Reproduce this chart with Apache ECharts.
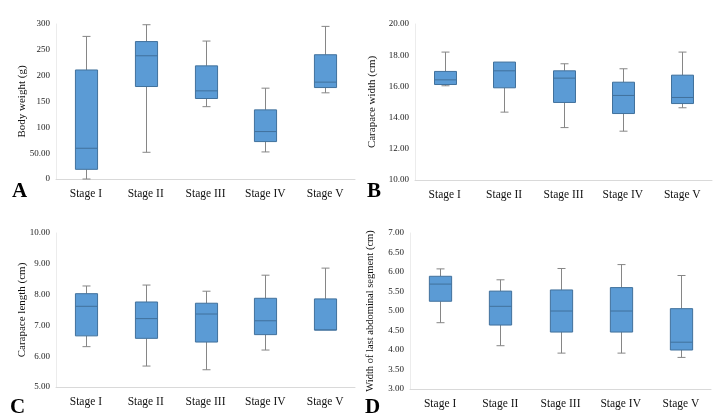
<!DOCTYPE html>
<html>
<head>
<meta charset="utf-8">
<script src="https://cdn.jsdelivr.net/npm/echarts@6/dist/echarts.min.js"></script>
<style>html,body{margin:0;padding:0;background:#fff}#c{width:720px;height:418px}</style>
</head>
<body>
<div id="c"></div>
<script>
// Categories
const stages = ['Stage I', 'Stage II', 'Stage III', 'Stage IV', 'Stage V'];

// Each entry: [min, Q1, median, Q3, max] per stage
const bodyWeight = [
  [0, 18.7, 59.5, 211, 276],
  [51.7, 179, 238.5, 266, 298.6],
  [140, 155.8, 170.6, 219, 267],
  [52.4, 72.4, 91.8, 133.8, 175.8],
  [166.8, 177, 187.5, 240.5, 295.4]
];
const carapaceWidth = [
  [16.04, 16.12, 16.42, 16.96, 18.20],
  [14.35, 15.91, 17.00, 17.56, 17.56],
  [13.36, 14.97, 16.53, 17.00, 17.45],
  [13.13, 14.26, 15.42, 16.27, 17.13],
  [14.63, 14.90, 15.29, 16.72, 18.20]
];
const carapaceLength = [
  [6.31, 6.66, 7.62, 8.03, 8.28],
  [5.68, 6.58, 7.22, 7.76, 8.31],
  [5.56, 6.46, 7.37, 7.72, 8.11],
  [6.20, 6.70, 7.15, 7.88, 8.63],
  [6.85, 6.85, 6.85, 7.86, 8.86]
];
const lastSegmentWidth = [
  [4.70, 5.25, 5.69, 5.89, 6.08],
  [4.11, 4.64, 5.12, 5.51, 5.80],
  [3.92, 4.46, 5.00, 5.54, 6.09],
  [3.92, 4.46, 5.00, 5.60, 6.19],
  [3.81, 4.00, 4.20, 5.06, 5.91]
];

// Tick labels
const ticksA = ['0', '50.00', '100', '150', '200', '250', '300'];
const ticksB = ['10.00', '12.00', '14.00', '16.00', '18.00', '20.00'];
const ticksC = ['5.00', '6.00', '7.00', '8.00', '9.00', '10.00'];
const ticksD = ['3.00', '3.50', '4.00', '4.50', '5.00', '5.50', '6.00', '6.50', '7.00'];

const panels = [
  {data: bodyWeight, name: 'Body weight (g)', min: 0, max: 300, interval: 50, ticks: ticksA,
   grid: {left: 56, top: 24, width: 299, height: 155}, nameGap: 28, nameSize: 11, letter: 'A', lx: 12, ly: 181},
  {data: carapaceWidth, name: 'Carapace width (cm)', min: 10, max: 20, interval: 2, ticks: ticksB,
   grid: {left: 415, top: 24, width: 297, height: 156}, nameGap: 37, nameSize: 11, letter: 'B', lx: 367, ly: 181},
  {data: carapaceLength, name: 'Carapace length (cm)', min: 5, max: 10, interval: 1, ticks: ticksC,
   grid: {left: 56, top: 233, width: 299, height: 154}, nameGap: 28, nameSize: 11, letter: 'C', lx: 10, ly: 397},
  {data: lastSegmentWidth, name: 'Width of last abdominal segment (cm)', min: 3, max: 7, interval: 0.5, ticks: ticksD,
   grid: {left: 410, top: 233, width: 301, height: 156}, nameGap: 34, nameSize: 10.5, letter: 'D', lx: 365, ly: 397}
];

const FONT = 'Liberation Serif';
const BOX_FILL = '#5b9bd5';
const BOX_BORDER = '#41719c';
const WHISKER = '#868686';

function renderBox(params, api) {
  const idx = api.value(0);
  const pMin = api.coord([idx, api.value(1)]);
  const pQ1 = api.coord([idx, api.value(2)]);
  const pMed = api.coord([idx, api.value(3)]);
  const pQ3 = api.coord([idx, api.value(4)]);
  const pMax = api.coord([idx, api.value(5)]);
  const band = api.size([1, 0])[0];
  const bw = band * 0.37;
  const cw = 8;
  const cx = Math.round(pMed[0]) + 0.5;
  const children = [];
  const line = (x1, y1, x2, y2, c) => ({type: 'line', shape: {x1, y1, x2, y2}, style: {stroke: c, lineWidth: 1}});
  if (pMax[1] < pQ3[1] - 0.5) {
    children.push(line(cx, pMax[1], cx, pQ3[1], WHISKER));
    children.push(line(cx - cw / 2, pMax[1], cx + cw / 2, pMax[1], WHISKER));
  }
  if (pMin[1] > pQ1[1] + 0.5) {
    children.push(line(cx, pQ1[1], cx, pMin[1], WHISKER));
    children.push(line(cx - cw / 2, pMin[1], cx + cw / 2, pMin[1], WHISKER));
  }
  children.push({type: 'rect', shape: {x: cx - bw / 2, y: pQ3[1], width: bw, height: pQ1[1] - pQ3[1]},
    style: {fill: BOX_FILL, stroke: BOX_BORDER, lineWidth: 1}});
  children.push(line(cx - bw / 2, pMed[1], cx + bw / 2, pMed[1], BOX_BORDER));
  return {type: 'group', children};
}

const option = {
  backgroundColor: '#fff',
  animation: false,
  grid: panels.map(p => Object.assign({containLabel: false}, p.grid)),
  xAxis: panels.map((p, i) => ({
    type: 'category', gridIndex: i, data: stages,
    axisLine: {lineStyle: {color: '#d9d9d9'}},
    axisTick: {show: false},
    axisLabel: {fontFamily: FONT, fontSize: 11.5, color: '#111', margin: 9, interval: 0}
  })),
  yAxis: panels.map((p, i) => ({
    type: 'value', gridIndex: i, min: p.min, max: p.max, interval: p.interval,
    name: p.name, nameLocation: 'middle', nameGap: p.nameGap, nameRotate: 90,
    nameMoveOverlap: false,
    nameTextStyle: {fontFamily: FONT, fontSize: p.nameSize, color: '#111'},
    axisLine: {show: true, lineStyle: {color: '#ececec'}},
    axisTick: {show: false},
    splitLine: {show: false},
    axisLabel: {
      fontFamily: FONT, fontSize: 9, color: '#222', margin: 6,
      formatter: (v) => p.ticks[Math.round((v - p.min) / p.interval)]
    }
  })),
  series: panels.map((p, i) => ({
    type: 'custom', xAxisIndex: i, yAxisIndex: i,
    renderItem: renderBox,
    encode: {x: 0, y: [1, 2, 3, 4, 5]},
    data: p.data.map((d, k) => [k].concat(d))
  })),
  graphic: panels.map(p => ({
    type: 'text', left: p.lx, top: p.ly,
    style: {text: p.letter, font: 'bold 21px "Liberation Serif"', fill: '#000'}
  }))
};

const chart = echarts.init(document.getElementById('c'), null, {renderer: 'canvas'});
chart.setOption(option);
</script>
</body>
</html>
